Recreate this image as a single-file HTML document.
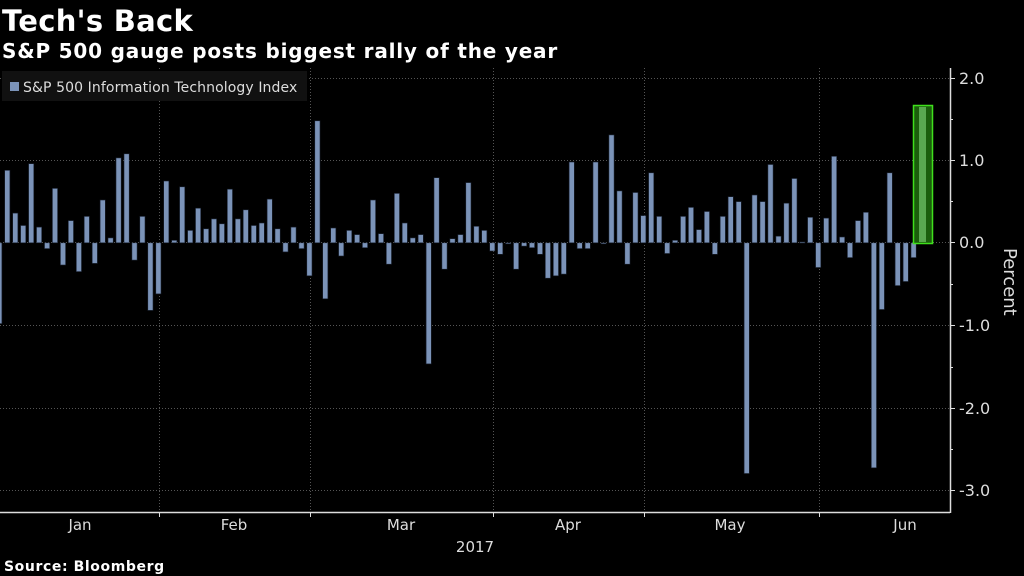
<!DOCTYPE html>
<html><head><meta charset="utf-8"><style>
html,body{margin:0;padding:0;background:#000;width:1024px;height:576px;overflow:hidden}
svg{display:block}
text{font-family:"DejaVu Sans","Liberation Sans",sans-serif}
</style></head><body>
<svg id="s" width="1024" height="576" viewBox="0 0 1024 576" xmlns="http://www.w3.org/2000/svg">
<rect width="1024" height="576" fill="#000"/>
<text x="2" y="31" fill="#fff" font-size="29" font-weight="bold" letter-spacing="0.3">Tech's Back</text>
<text x="2" y="58" fill="#fff" font-size="20" font-weight="bold" letter-spacing="0.8">S&amp;P 500 gauge posts biggest rally of the year</text>
<g stroke="#555" stroke-width="1" stroke-dasharray="1,2">
<line x1="0" x2="950" y1="78.5" y2="78.5"/><line x1="0" x2="950" y1="160.5" y2="160.5"/>
<line x1="0" x2="950" y1="242.5" y2="242.5"/><line x1="0" x2="950" y1="325.5" y2="325.5"/>
<line x1="0" x2="950" y1="408.5" y2="408.5"/><line x1="0" x2="950" y1="490.5" y2="490.5"/>
<line x1="159.5" x2="159.5" y1="68" y2="512"/><line x1="310.5" x2="310.5" y1="68" y2="512"/>
<line x1="493.5" x2="493.5" y1="68" y2="512"/><line x1="644.5" x2="644.5" y1="68" y2="512"/>
<line x1="819.5" x2="819.5" y1="68" y2="512"/>
</g>
<rect x="2" y="71" width="305" height="30" fill="#111"/>
<rect x="10" y="82" width="9" height="9" fill="#7b93b8"/>
<text x="23" y="92" fill="#ddd" font-size="14" letter-spacing="0.1">S&amp;P 500 Information Technology Index</text>
<g id="bars"></g>
<rect x="913.5" y="105.5" width="19" height="138" fill="#1b5e0c" stroke="#3fe01c" stroke-width="1.5"/>
<rect x="919" y="107" width="7" height="135" fill="#5aa850"/>
<g stroke="#ddd" stroke-width="1.5" fill="none">
<line x1="0" x2="950" y1="512.5" y2="512.5"/>
<line x1="950.5" x2="950.5" y1="68" y2="513"/>
</g>
<g stroke="#ddd" stroke-width="1">
<line x1="159.5" x2="159.5" y1="512" y2="517"/><line x1="310.5" x2="310.5" y1="512" y2="517"/>
<line x1="493.5" x2="493.5" y1="512" y2="517"/><line x1="644.5" x2="644.5" y1="512" y2="517"/>
<line x1="819.5" x2="819.5" y1="512" y2="517"/>
<line x1="950" x2="955" y1="78.5" y2="78.5"/><line x1="950" x2="955" y1="160.5" y2="160.5"/>
<line x1="950" x2="955" y1="242.5" y2="242.5"/><line x1="950" x2="955" y1="325.5" y2="325.5"/>
<line x1="950" x2="955" y1="408.5" y2="408.5"/><line x1="950" x2="955" y1="490.5" y2="490.5"/>
<line x1="950" x2="953" y1="119.5" y2="119.5"/><line x1="950" x2="953" y1="201.5" y2="201.5"/>
<line x1="950" x2="953" y1="284.5" y2="284.5"/><line x1="950" x2="953" y1="367.5" y2="367.5"/>
<line x1="950" x2="953" y1="449.5" y2="449.5"/>
</g>
<g fill="#ddd" font-size="16">
<text x="959" y="84">2.0</text><text x="959" y="166">1.0</text><text x="959" y="248">0.0</text>
<text x="959" y="331">-1.0</text><text x="959" y="414">-2.0</text><text x="959" y="496">-3.0</text>
</g>
<text transform="translate(1004,248) rotate(90)" fill="#ddd" font-size="18">Percent</text>
<g fill="#ddd" font-size="15" text-anchor="middle">
<text x="80" y="530">Jan</text><text x="234" y="530">Feb</text><text x="401" y="530">Mar</text>
<text x="568" y="530">Apr</text><text x="730" y="530">May</text><text x="905" y="530">Jun</text>
<text x="475" y="552">2017</text>
</g>
<text x="4" y="571" fill="#fff" font-size="14" font-weight="bold" letter-spacing="0.6">Source: Bloomberg</text>
</svg>
<script>
var v=[-0.98,0.88,0.36,0.21,0.96,0.19,-0.07,0.66,-0.27,0.27,-0.35,0.32,-0.25,0.52,0.06,1.03,1.08,-0.21,0.32,-0.82,-0.62,0.75,0.03,0.68,0.15,0.42,0.17,0.29,0.23,0.65,0.29,0.4,0.21,0.24,0.53,0.17,-0.11,0.19,-0.07,-0.4,1.48,
-0.68,0.18,-0.16,0.15,0.1,-0.06,0.52,0.11,-0.26,0.6,0.24,0.06,0.1,-1.47,0.79,-0.32,0.05,0.1,0.73,0.2,0.15,-0.1,-0.14,-0.01,-0.32,-0.04,-0.06,-0.14,-0.43,-0.4,-0.38,0.98,-0.07,-0.07,0.98,-0.01,1.31,0.63,-0.26,
0.61,0.33,0.85,0.32,-0.13,0.03,0.32,0.43,0.16,0.38,-0.14,0.32,0.56,0.5,-2.8,0.58,0.5,0.95,0.08,0.48,0.78,0.01,0.31,-0.3,0.3,1.05,0.07,-0.18,0.27,0.37,-2.73,-0.81,0.85,-0.52,-0.47,-0.18];
var g=document.getElementById('bars'),z=242.8,k=82.4,h='';
for(var i=0;i<v.length;i++){var x=-0.65+i*7.95;var y=v[i]>=0?z-v[i]*k:z;var hh=Math.max(1,Math.abs(v[i])*k);
h+='<rect x="'+(x-2.6).toFixed(1)+'" y="'+y.toFixed(1)+'" width="5.2" height="'+hh.toFixed(1)+'" fill="#7b93b8" stroke="#1a2230" stroke-width="0.6"/>';}
g.innerHTML=h;
</script>
</body></html>
